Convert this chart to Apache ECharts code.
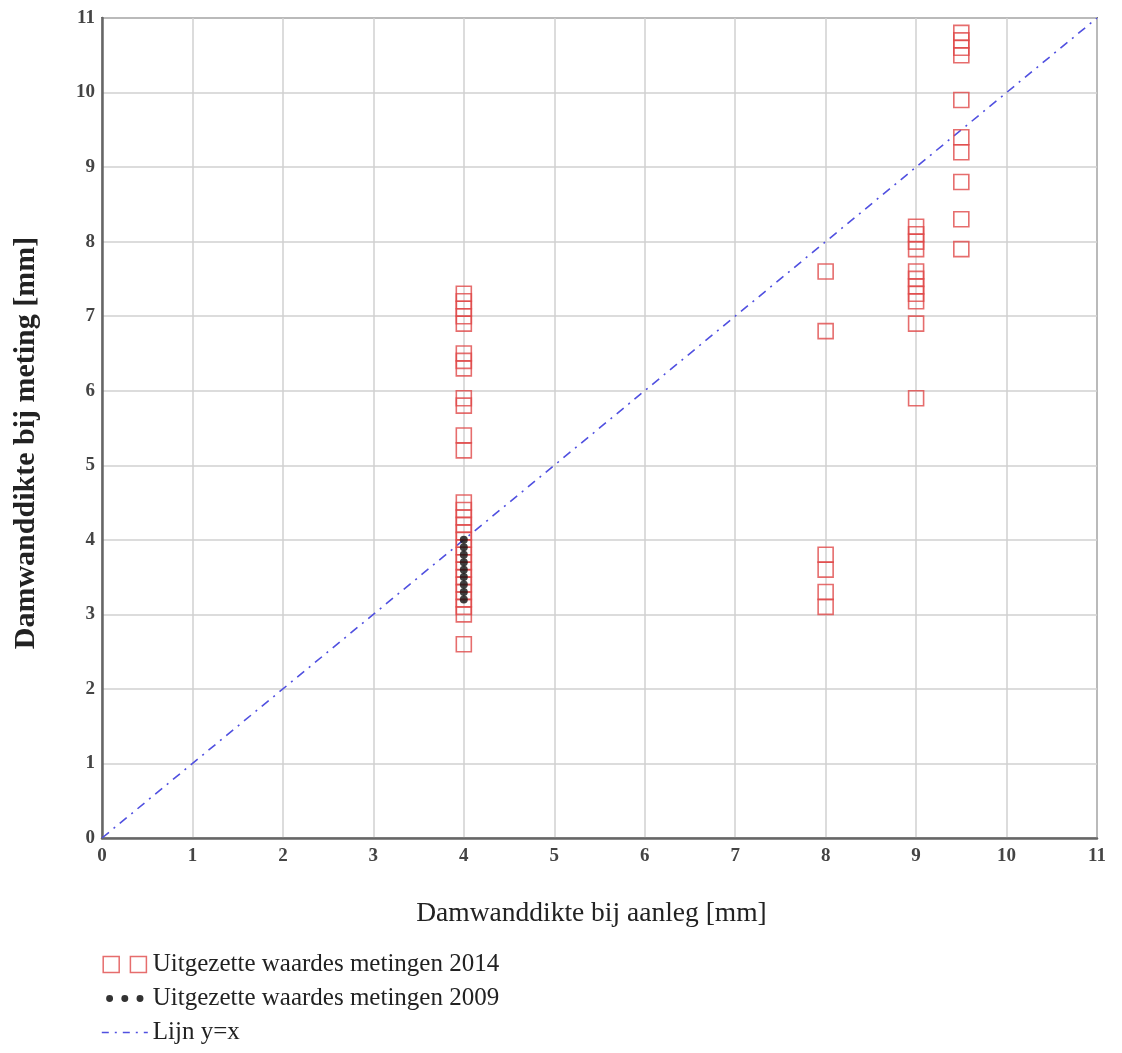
<!DOCTYPE html>
<html>
<head>
<meta charset="utf-8">
<script src="https://cdn.jsdelivr.net/npm/echarts@6/dist/echarts.min.js"></script>
<style>html,body{margin:0;padding:0;background:#fff}#c{width:1122px;height:1053px}</style>
</head>
<body>
<div id="c"></div>
<script>
// Data
var x2014 = [4,4,4,4,4, 4,4,4, 4,4, 4,4, 4,4,4,4,4,4,4,4,4,4,4,4,4,4,4,4, 4,
             8,8,8,8,8,8,
             9,9,9,9, 9,9,9,9,9, 9, 9,
             9.5,9.5,9.5,9.5, 9.5, 9.5,9.5, 9.5, 9.5, 9.5];
var y2014 = [7.3,7.2,7.1,7.0,6.9, 6.5,6.4,6.3, 5.9,5.8, 5.4,5.2, 4.5,4.4,4.3,4.2,4.1,4.0,3.9,3.8,3.7,3.6,3.5,3.4,3.3,3.2,3.1,3.0, 2.6,
             7.6,6.8,3.8,3.6,3.3,3.1,
             8.2,8.1,8.0,7.9, 7.6,7.5,7.4,7.3,7.2, 6.9, 5.9,
             10.8,10.7,10.6,10.5, 9.9, 9.4,9.2, 8.8, 8.3, 7.9];
var x2009 = [4,4,4,4,4,4,4,4,4];
var y2009 = [4.0,3.9,3.8,3.7,3.6,3.5,3.4,3.3,3.2];
var lineX = [0, 11];
var lineY = [0, 11];
var ticks = [0,1,2,3,4,5,6,7,8,9,10,11];

var name2014 = 'Uitgezette waardes metingen 2014';
var name2009 = 'Uitgezette waardes metingen 2009';
var nameLine = 'Lijn y=x';

function zip(a, b) { return a.map(function (v, i) { return [v, b[i]]; }); }

var serif = '"Liberation Serif", "Times New Roman", serif';
var chart = echarts.init(document.getElementById('c'));
chart.setOption({
  animation: false,
  backgroundColor: '#ffffff',
  grid: { left: 102, top: 18, right: 25, bottom: 215, show: true, borderColor: '#777', borderWidth: 2, containLabel: false },
  xAxis: {
    type: 'value', min: 0, max: 11, interval: 1,
    name: 'Damwanddikte bij aanleg [mm]', nameLocation: 'middle', nameGap: 62,
    nameTextStyle: { fontFamily: serif, fontSize: 27.5, color: '#222', padding: [0, 16, 0, 0] },
    axisLine: { show: true, lineStyle: { color: '#666', width: 2.5 } },
    axisTick: { show: false },
    axisLabel: { fontFamily: serif, fontSize: 19, fontWeight: 'bold', color: '#444', margin: 9,
      formatter: function (v) { return ticks.indexOf(v) >= 0 ? String(v) : ''; } },
    splitLine: { show: true, lineStyle: { color: '#d0d0d0', width: 1.5 } }
  },
  yAxis: {
    type: 'value', min: 0, max: 11, interval: 1,
    name: 'Damwanddikte bij meting [mm]', nameLocation: 'middle', nameGap: 61,
    nameTextStyle: { fontFamily: serif, fontSize: 30, fontWeight: 'bold', color: '#222', padding: [0, 30, 0, 0] },
    axisLine: { show: true, lineStyle: { color: '#666', width: 2.5 } },
    axisTick: { show: false },
    axisLabel: { fontFamily: serif, fontSize: 19, fontWeight: 'bold', color: '#444', margin: 7 },
    splitLine: { show: true, lineStyle: { color: '#d0d0d0', width: 1.5 } }
  },
  legend: {
    orient: 'vertical', left: 96, top: 947, itemGap: 9,
    itemWidth: 46, itemHeight: 16,
    textStyle: { fontFamily: serif, fontSize: 25, color: '#222' },
    data: [
      { name: name2014, icon: 'path://M0,0H10V10H0Z M17,0H27V10H17Z',
        itemStyle: { color: 'rgba(0,0,0,0)', borderColor: '#e04848', borderWidth: 1.5 } },
      { name: name2009, icon: 'path://M0,0L0.001,0 M34,12L34.001,12 M3,6a2.6,2.6 0 1,0 5.2,0a2.6,2.6 0 1,0 -5.2,0 M14.4,6a2.6,2.6 0 1,0 5.2,0a2.6,2.6 0 1,0 -5.2,0 M25.8,6a2.6,2.6 0 1,0 5.2,0a2.6,2.6 0 1,0 -5.2,0',
        itemStyle: { color: '#000' } },
      { name: nameLine, itemStyle: { opacity: 0 }, lineStyle: { color: '#5050e0', width: 1.6, type: [7, 6, 2, 6] } }
    ]
  },
  series: [
    {
      name: nameLine, type: 'line', data: zip(lineX, lineY), symbol: 'none', z: 3,
      lineStyle: { color: '#5050e0', width: 1.6, type: [9, 6, 2, 6] },
      itemStyle: { color: '#5050e0' }
    },
    {
      name: name2014, type: 'scatter', data: zip(x2014, y2014), symbol: 'rect', symbolSize: 15, z: 4,
      itemStyle: { color: 'rgba(0,0,0,0)', borderColor: '#e04848', borderWidth: 1.6 }
    },
    {
      name: name2009, type: 'scatter', data: zip(x2009, y2009), symbol: 'circle', symbolSize: 8, z: 5,
      itemStyle: { color: '#111' }
    }
  ]
});
</script>
</body>
</html>
